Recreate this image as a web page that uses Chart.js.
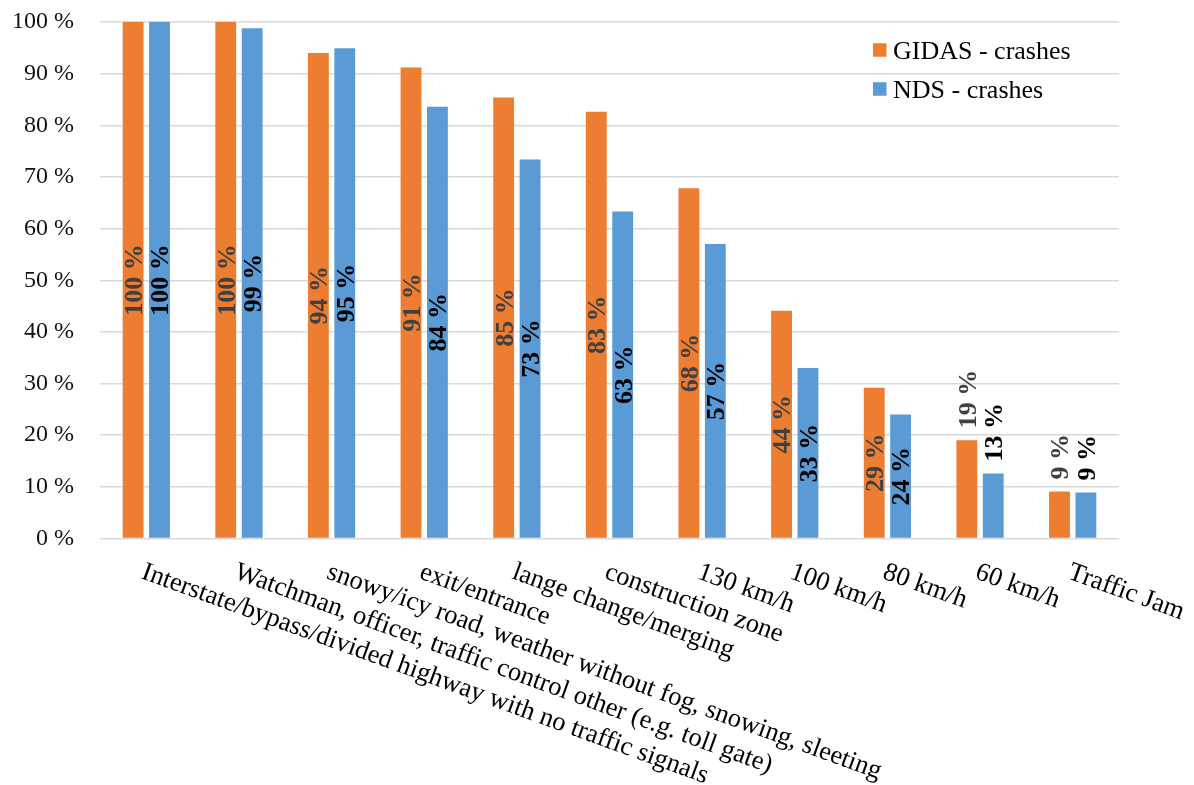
<!DOCTYPE html>
<html>
<head>
<meta charset="utf-8">
<script src="https://cdn.jsdelivr.net/npm/chart.js@4/dist/chart.umd.min.js"></script>
<style>
  html, body { margin: 0; padding: 0; background: #ffffff; }
  #wrap { width: 1194px; height: 785px; }
</style>
</head>
<body>
<div id="wrap"><canvas id="chart" width="1194" height="785"></canvas></div>
<script>
// Road / environment categories on the x axis
const categories = [
  'Interstate/bypass/divided highway with no traffic signals',
  'Watchman, officer, traffic control other (e.g. toll gate)',
  'snowy/icy road, weather without fog, snowing, sleeting',
  'exit/entrance',
  'lange change/merging',
  'construction zone',
  '130 km/h',
  '100 km/h',
  '80 km/h',
  '60 km/h',
  'Traffic Jam'
];

// Share of crashes covered (%), per source
const gidasCrashes = [100, 100, 94.0, 91.2, 85.4, 82.6, 67.8, 44.1, 29.2, 19.0, 9.1];
const ndsCrashes   = [100, 98.8, 94.9, 83.6, 73.4, 63.3, 57.0, 33.0, 24.0, 12.6, 8.9];

// Series names and y-axis tick values
const seriesNames = ['GIDAS - crashes', 'NDS - crashes'];
const yTicks = [0, 10, 20, 30, 40, 50, 60, 70, 80, 90, 100];

const SERIF = '"Liberation Serif", "Times New Roman", serif';
const ORANGE = '#ED7D31';
const BLUE = '#5B9BD5';
const pct = v => Math.round(v) + ' %';

// Vertical value labels inside each bar (or just above short bars)
const barLabels = {
  id: 'barLabels',
  afterDatasetsDraw(chart) {
    const ctx = chart.ctx;
    const fs = 26;
    ctx.save();
    ctx.font = 'bold ' + fs + 'px ' + SERIF;
    chart.data.datasets.forEach((ds, di) => {
      const meta = chart.getDatasetMeta(di);
      ctx.fillStyle = di === 0 ? '#404040' : '#000000';
      meta.data.forEach((bar, i) => {
        const text = pct(ds.data[i]);
        const w = ctx.measureText(text).width;
        const h = bar.base - bar.y;
        const bx = bar.x + fs * 0.34;
        ctx.save();
        if (h >= w + 48) {
          ctx.translate(bx, (bar.y + bar.base) / 2);
          ctx.rotate(-Math.PI / 2);
          ctx.textAlign = 'center';
        } else {
          ctx.translate(bx, bar.y - 12);
          ctx.rotate(-Math.PI / 2);
          ctx.textAlign = 'left';
        }
        ctx.textBaseline = 'alphabetic';
        ctx.fillText(text, 0, 0);
        ctx.restore();
      });
    });
    ctx.restore();
  }
};

// Slanted category labels hanging from each category centre
const slantedCategoryLabels = {
  id: 'slantedCategoryLabels',
  afterDraw(chart) {
    const ctx = chart.ctx;
    const xs = chart.scales.x;
    const fs = 26.5;
    const angle = 20 * Math.PI / 180;
    ctx.save();
    ctx.font = fs + 'px ' + SERIF;
    ctx.fillStyle = '#000000';
    ctx.textAlign = 'left';
    ctx.textBaseline = 'alphabetic';
    categories.forEach((c, i) => {
      const x = xs.getPixelForValue(i);
      ctx.save();
      ctx.translate(x, chart.chartArea.bottom + 23);
      ctx.rotate(angle);
      ctx.fillText(c, 0, fs * 0.66);
      ctx.restore();
    });
    ctx.restore();
  }
};

// Legend in the upper right of the plot
const cornerLegend = {
  id: 'cornerLegend',
  afterDraw(chart) {
    const ctx = chart.ctx;
    const fs = 26;
    const x0 = 873, y0 = 50, rowGap = 39, box = 13.5;
    ctx.save();
    ctx.font = fs + 'px ' + SERIF;
    ctx.textAlign = 'left';
    ctx.textBaseline = 'alphabetic';
    chart.data.datasets.forEach((ds, i) => {
      const cy = y0 + i * rowGap;
      ctx.fillStyle = ds.backgroundColor;
      ctx.fillRect(x0, cy - box / 2, box, box);
      ctx.fillStyle = '#000000';
      ctx.fillText(ds.label, x0 + 20, cy + fs * 0.33);
    });
    ctx.restore();
  }
};

new Chart(document.getElementById('chart'), {
  type: 'bar',
  data: {
    labels: categories,
    datasets: [
      { label: seriesNames[0], data: gidasCrashes, backgroundColor: ORANGE,
        categoryPercentage: 0.57, barPercentage: 0.79 },
      { label: seriesNames[1], data: ndsCrashes, backgroundColor: BLUE,
        categoryPercentage: 0.57, barPercentage: 0.79 }
    ]
  },
  options: {
    responsive: false,
    devicePixelRatio: 1,
    animation: false,
    layout: { padding: { top: 22, right: 75, bottom: 246.5, left: 0 } },
    plugins: {
      legend: { display: false },
      tooltip: { enabled: false }
    },
    scales: {
      x: {
        grid: { display: false },
        border: { display: false },
        ticks: { display: false },
        afterFit(scale) { scale.height = 0; }
      },
      y: {
        min: 0,
        max: 100,
        afterBuildTicks(scale) { scale.ticks = yTicks.map(v => ({ value: v })); },
        afterFit(scale) {
          scale.width = 100;
          scale.paddingTop = 0;
          scale.paddingBottom = 0;
        },
        border: { display: false },
        grid: { color: '#d9d9d9', lineWidth: 1.5, drawTicks: false },
        ticks: {
          padding: 26,
          color: '#111111',
          font: { family: SERIF, size: 24 },
          callback: v => v + ' %'
        }
      }
    }
  },
  plugins: [barLabels, slantedCategoryLabels, cornerLegend]
});
</script>
</body>
</html>
